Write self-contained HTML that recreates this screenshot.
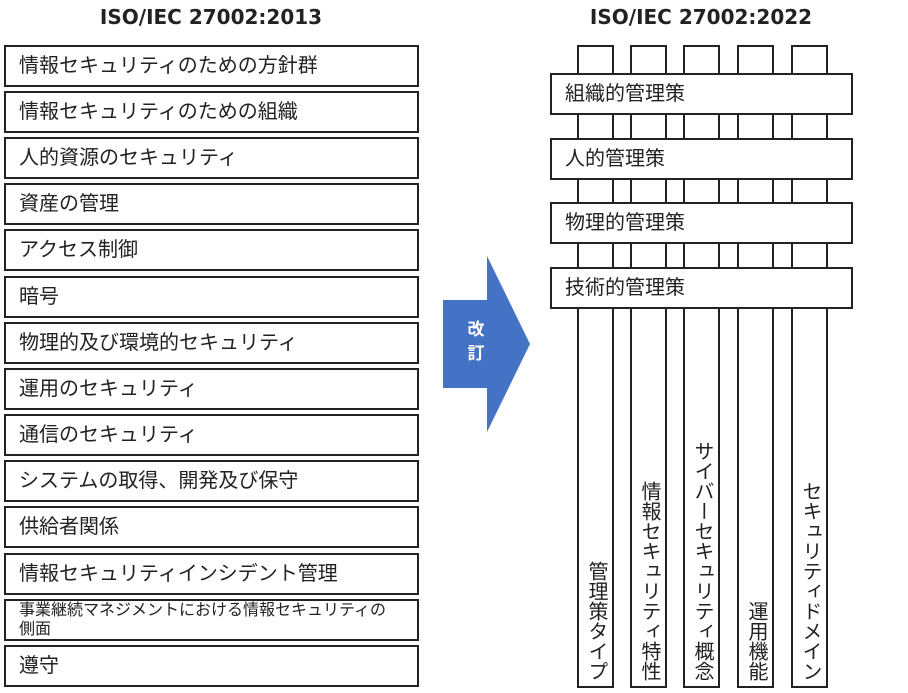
<!DOCTYPE html>
<html><head><meta charset="utf-8"><style>
body{margin:0;width:908px;height:693px;background:#fff;position:relative;overflow:hidden;font-family:"Liberation Sans","Noto Sans CJK JP",sans-serif;color:#222}
.b{position:absolute;box-sizing:border-box;border:2px solid #222;background:#fff}
.l{left:4px;width:415px;height:42px;font-size:20px;line-height:38px;padding-left:13px;white-space:nowrap}
.t{position:absolute;font-weight:bold;font-size:20px;top:5px;width:320px;text-align:center;font-family:"DejaVu Sans",sans-serif}
.c{top:45px;width:37px;height:643px}
.v{position:absolute;left:0;width:33px;writing-mode:vertical-rl;font-size:20px;line-height:33px;bottom:5px}
.h{left:550px;width:303px;height:42px;font-size:20px;line-height:38px;padding-left:13px}
</style></head><body>
<div class="t" style="left:51px">ISO/IEC 27002:2013</div>
<div class="t" style="left:541px">ISO/IEC 27002:2022</div>

<div class="b l" style="top:45px">情報セキュリティのための方針群</div>
<div class="b l" style="top:91px">情報セキュリティのための組織</div>
<div class="b l" style="top:137px">人的資源のセキュリティ</div>
<div class="b l" style="top:183px">資産の管理</div>
<div class="b l" style="top:229px">アクセス制御</div>
<div class="b l" style="top:276px">暗号</div>
<div class="b l" style="top:322px">物理的及び環境的セキュリティ</div>
<div class="b l" style="top:368px">運用のセキュリティ</div>
<div class="b l" style="top:414px">通信のセキュリティ</div>
<div class="b l" style="top:460px">システムの取得、開発及び保守</div>
<div class="b l" style="top:506px">供給者関係</div>
<div class="b l" style="top:553px">情報セキュリティインシデント管理</div>
<div class="b l" style="top:599px;font-size:16px;line-height:19px;padding-top:0">事業継続マネジメントにおける情報セキュリティの<br>側面</div>
<div class="b l" style="top:645px">遵守</div>

<svg style="position:absolute;left:0;top:0" width="908" height="693"><polygon points="443,300 487,300 487,256 530,344 487,432 487,388 443,388" fill="#4472C4"/></svg>
<div style="position:absolute;left:463px;top:318px;color:#fff;font-weight:bold;font-size:17px;line-height:24px;width:26px;text-align:center">改<br>訂</div>

<div class="b c" style="left:577px"><div class="v">管理策タイプ</div></div>
<div class="b c" style="left:630px"><div class="v">情報セキュリティ特性</div></div>
<div class="b c" style="left:683px"><div class="v">サイバーセキュリティ概念</div></div>
<div class="b c" style="left:737px"><div class="v">運用機能</div></div>
<div class="b c" style="left:791px"><div class="v">セキュリティドメイン</div></div>

<div class="b h" style="top:73px">組織的管理策</div>
<div class="b h" style="top:138px">人的管理策</div>
<div class="b h" style="top:202px">物理的管理策</div>
<div class="b h" style="top:267px">技術的管理策</div>
</body></html>
